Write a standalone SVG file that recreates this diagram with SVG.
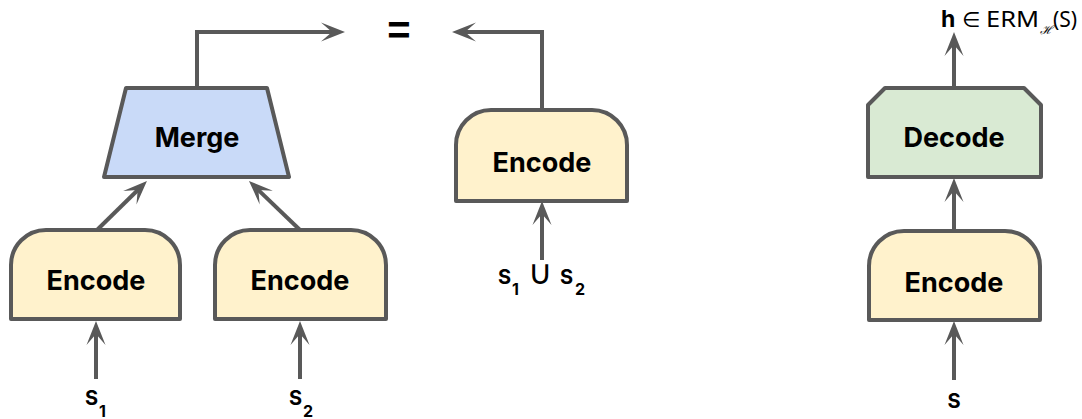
<svg xmlns="http://www.w3.org/2000/svg" width="1082" height="419" viewBox="0 0 1082 419">
  <style>
    .box { stroke: #595959; stroke-width: 4; stroke-linejoin: round; }
    .enc { fill: #fff2cc; }
    .mrg { fill: #c9daf8; }
    .dec { fill: #d9ead3; }
    .lbl { font-family: Inter, "Liberation Sans", sans-serif; font-weight: 700; font-size: 27px; fill: #000; text-anchor: middle; }
    .set { font-family: Inter, "Liberation Sans", sans-serif; font-weight: 700; font-size: 20px; fill: #000; }
    .sub { font-size: 16px; }
    .math { font-family: "Noto Sans", "DejaVu Sans", sans-serif; font-size: 21px; fill: #000; }
    .wire { fill: none; stroke: #595959; stroke-width: 4; marker-end: url(#head); }
  </style>
  <defs>
    <marker id="head" markerUnits="userSpaceOnUse" markerWidth="26" markerHeight="20" refX="13" refY="9.5" orient="auto" overflow="visible">
      <path d="M0,0 L24,9.5 L0,19 L11,9.5 Z" fill="#595959"/>
    </marker>
  </defs>

  <!-- connectors -->
  <g id="connectors">
    <path class="wire" d="M96,379 V332"/>
    <path class="wire" d="M300,379 V332"/>
    <path class="wire" d="M97,230 L139.1,188.7"/>
    <path class="wire" d="M300,230 L256.9,188.6"/>
    <path class="wire" d="M197,88 V32 H334"/>
    <path class="wire" d="M542,110 V32 H463"/>
    <path class="wire" d="M542,260 V212"/>
    <path class="wire" d="M954,380 V332"/>
    <path class="wire" d="M954,231 V189"/>
    <path class="wire" d="M954,88 V43"/>
  </g>

  <!-- left branch: two encoders feeding a merge -->
  <g id="encode-s1">
    <path class="box enc" d="M11,319 V265 A35,35 0 0 1 46,230 H145 A35,35 0 0 1 180,265 V319 Z"/>
    <text class="lbl" x="96" y="290">Encode</text>
  </g>
  <g id="encode-s2">
    <path class="box enc" d="M215,319 V265 A35,35 0 0 1 250,230 H351 A35,35 0 0 1 386,265 V319 Z"/>
    <text class="lbl" x="300" y="290">Encode</text>
  </g>
  <g id="merge">
    <path class="box mrg" d="M126,88 H267 L289,177 H104 Z"/>
    <text class="lbl" x="197" y="147">Merge</text>
  </g>
  <g id="label-s1">
    <text class="set" x="85" y="405">S<tspan class="sub" x="99" y="417">1</tspan></text>
  </g>
  <g id="label-s2">
    <text class="set" x="289" y="405">S<tspan class="sub" x="303" y="417">2</tspan></text>
  </g>

  <!-- equals sign -->
  <g id="equals">
    <text x="399" y="44" style="font-family: 'Liberation Sans', sans-serif; font-weight: 700; font-size: 40px; text-anchor: middle;">=</text>
  </g>

  <!-- middle branch: single encoder on the union -->
  <g id="encode-union">
    <path class="box enc" d="M456,201 V145 A35,35 0 0 1 491,110 H592 A35,35 0 0 1 627,145 V201 Z"/>
    <text class="lbl" x="542" y="172">Encode</text>
  </g>
  <g id="label-union">
    <text class="set" x="498" y="284">S<tspan class="sub" x="512" y="295">1</tspan><tspan x="528" y="284" style="font-family: 'DejaVu Sans', sans-serif; font-weight: 400; font-size: 34px;">∪</tspan><tspan x="560" y="284">S</tspan><tspan class="sub" x="575" y="295">2</tspan></text>
  </g>

  <!-- right branch: encode then decode -->
  <g id="encode-s">
    <path class="box enc" d="M869,320 V266 A35,35 0 0 1 904,231 H1005 A35,35 0 0 1 1040,266 V320 Z"/>
    <text class="lbl" x="954" y="292">Encode</text>
  </g>
  <g id="decode">
    <path class="box dec" d="M868,177 V105 L885,88 H1024 L1041,105 V177 Z"/>
    <text class="lbl" x="954" y="147">Decode</text>
  </g>
  <g id="label-s">
    <text class="set" x="954" y="408" text-anchor="middle">S</text>
  </g>
  <g id="label-erm">
    <text x="941" y="27" style="font-family: Inter, 'Liberation Sans', sans-serif; font-weight: 700; font-size: 23px;">h</text>
    <text class="math" x="962" y="27">∈</text>
    <text class="math" x="986" y="27" textLength="53" lengthAdjust="spacingAndGlyphs">ERM</text>
    <text x="1040" y="34" style="font-family: 'DejaVu Serif', serif; font-style: italic; font-size: 12px;">ℋ</text>
    <text class="math" x="1053" y="27">(S)</text>
  </g>
</svg>
